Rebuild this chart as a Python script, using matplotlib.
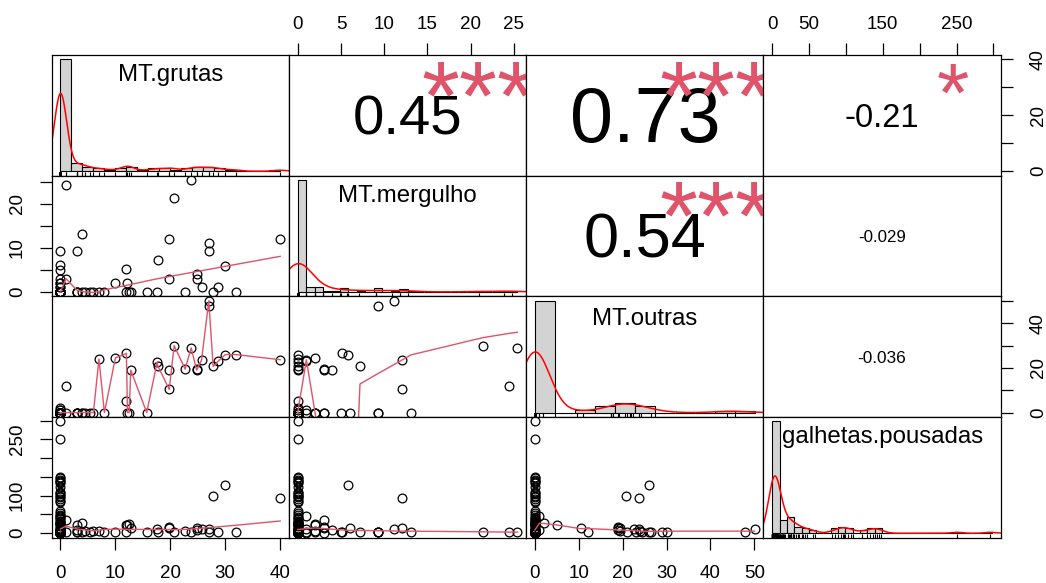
import numpy as np
import matplotlib
matplotlib.use("Agg")
import matplotlib.pyplot as plt
from matplotlib.font_manager import FontProperties
from matplotlib.textpath import TextPath
from matplotlib.transforms import offset_copy, blended_transform_factory

plt.rcParams['font.family'] = ['Liberation Sans', 'DejaVu Sans']
FONT = 'Liberation Sans'

var_names = ["MT.grutas", "MT.mergulho", "MT.outras", "galhetas.pousadas"]

# one value per site, same order in every list
mt_grutas = [
    1, 23.8, 20.7, 27, 27, 40, 19.8, 3.9, 3, 17.7,
    30, 12, 24.8, 24.8, 19.8, 10, 12, 25.7, 28.7, 7,
    8, 12.8, 12.5, 15.7, 17.6, 22.7, 27.8, 31.9, 12.2, 1,
    4, 4.5, 5.3, 6, 3, 3, 0,
    0, 0, 0, 0, 0, 0, 0, 0, 0, 0, 0, 0, 0, 0, 0, 0, 0, 0, 0, 0,
    0, 0, 0, 0, 0, 0, 0, 0, 0, 0,
    0, 0, 0, 0, 0, 0, 0, 0, 0, 0,
    0, 0, 0, 0, 0, 0, 0, 0, 0, 3,
    0, 0, 0, 0, 0, 0, 0, 0, 0, 0,
    0, 0, 0, 0, 0, 0, 0, 0, 0, 0,
    0, 0, 0, 0, 0, 0, 0,
]
mt_mergulho = [
    3, 25.4, 21.4, 11.1, 9.25, 12.1, 12.1, 13.1, 9.25, 7.2,
    5.8, 5.1, 4, 3, 3, 2, 0, 1, 1, 0,
    0, 0, 0, 0, 0, 0, 0, 0, 2, 24.4,
    0, 0, 0, 0, 0, 0, 0,
    0, 0, 0, 0, 0, 0, 0, 0, 0, 0, 0, 0, 0, 0, 0, 0, 0, 0, 0, 0,
    1, 0, 0, 0, 0, 0, 0, 0, 2, 0,
    6, 9.3, 5, 3, 1, 2, 0, 0, 0, 0,
    0, 0, 0, 0, 0, 0, 0, 0, 0, 0,
    0, 0, 0, 0, 0, 0, 0, 0, 0, 0,
    0, 0, 0, 0, 0, 0, 0, 0, 0, 0,
    0, 0, 0, 0, 0, 0, 0,
]
mt_outras = [
    0, 29, 30, 50.1, 48, 23.7, 10.4, 0, 0, 21,
    26, 26.5, 19, 19.5, 19, 24.5, 5, 23.7, 23, 24,
    0, 19, 0, 0, 22.6, 19.5, 20.7, 26, 0, 12,
    0, 0, 0, 0, 0, 0, 0,
    0, 0, 0, 0, 0, 0, 0, 0, 0, 0, 0, 0, 0, 0, 0, 0, 0, 0, 0, 0,
    1, 0, 0, 0, 0, 0, 0, 2, 0, 0,
    0, 0, 0, 0, 0, 0, 0, 0, 1, 0,
    0, 0, 0, 0, 0, 0, 0, 0, 0, 0,
    0, 0, 0, 0, 0, 0, 0, 0, 0, 0,
    0, 0, 0, 0, 0, 0, 0, 0, 0, 0,
    0, 0, 0, 0, 0, 0, 0,
]
galhetas_pousadas = [
    35, 4, 2, 12, 3, 94, 13, 3, 2, 4,
    129, 3, 8, 15, 16, 2, 22, 11, 2, 5,
    3, 14, 25, 3, 10, 5, 100, 2, 23, 3,
    28, 6, 4, 7, 21, 9, 18,
    298, 252, 149, 146, 143, 140, 137, 133, 122, 110,
    107, 104, 98, 96, 90, 86, 82, 58, 55, 48,
    45, 42, 40, 37, 32, 30, 28, 26, 25, 24,
    15, 2, 3, 1, 0, 5, 10, 9, 8, 8,
    7, 7, 6, 6, 6, 5, 5, 5, 4, 4,
    4, 3, 3, 3, 2, 2, 1, 1, 1, 1,
    1, 1, 1, 0, 0, 0, 0, 0, 0, 0,
    0, 0, 0, 0, 0, 0, 0,
]

# printed correlations (upper triangle) and their significance stars
cor_cells = [(0, 1), (0, 2), (0, 3), (1, 2), (1, 3), (2, 3)]
cor_values = [0.45, 0.73, -0.21, 0.54, -0.029, -0.036]
cor_labels = ["0.45", "0.73", "-0.21", "0.54", "-0.029", "-0.036"]
cor_stars = ["***", "***", "*", "***", "", ""]

# axis ticks per variable, and which labels are printed on each outer side
var_ticks = [
    [0, 10, 20, 30, 40],
    [0, 5, 10, 15, 20, 25],
    [0, 10, 20, 30, 40, 50],
    [0, 50, 100, 150, 200, 250, 300],
]
top_labels = {1: ["0", "5", "10", "15", "20", "25"],
              3: ["0", "50", "", "150", "", "250", ""]}
bottom_labels = {0: ["0", "10", "20", "30", "40"],
                 2: ["0", "10", "20", "30", "40", "50"]}
left_labels = {1: ["0", "", "10", "", "20", ""],
               3: ["0", "", "100", "", "", "250", ""]}
right_labels = {0: ["0", "", "20", "", "40"],
                2: ["0", "", "20", "", "40", ""]}

data = [np.array(v, dtype=float) for v in
        (mt_grutas, mt_mergulho, mt_outras, galhetas_pousadas)]


# ---- R's lowess (clowess) ----
def lowest(x, y, xs, nleft, nright, w, userw, rw):
    n = len(x)
    rng = x[-1] - x[0]
    h = max(xs - x[nleft], x[nright] - xs)
    h9, h1 = 0.999 * h, 0.001 * h
    a = 0.0
    j = nleft
    while j < n:
        w[j] = 0.0
        r = abs(x[j] - xs)
        if r <= h9:
            if r <= h1:
                w[j] = 1.0
            else:
                w[j] = (1 - (r / h) ** 3) ** 3
            if userw:
                w[j] *= rw[j]
            a += w[j]
        elif x[j] > xs:
            break
        j += 1
    nrt = j - 1
    if a <= 0:
        return None
    sl = slice(nleft, nrt + 1)
    w[sl] /= a
    if h > 0:
        a = np.sum(w[sl] * x[sl])
        b = xs - a
        c = np.sum(w[sl] * (x[sl] - a) ** 2)
        if np.sqrt(c) > 0.001 * rng:
            b /= c
            w[sl] *= (b * (x[sl] - a) + 1)
    return np.sum(w[sl] * y[sl])


def lowess(xv, yv, f=2 / 3, nsteps=3):
    order = np.argsort(xv, kind='stable')
    x = xv[order]
    y = yv[order]
    n = len(x)
    delta = 0.01 * (x[-1] - x[0])
    ns = max(2, min(n, int(f * n + 1e-7)))
    ys = np.zeros(n)
    rw = np.zeros(n)
    res = np.zeros(n)
    it = 1
    while it <= nsteps + 1:
        nleft, nright, last, i = 0, ns - 1, -1, 0
        while True:
            if nright < n - 1:
                d1 = x[i] - x[nleft]
                d2 = x[nright + 1] - x[i]
                if d1 > d2:
                    nleft += 1
                    nright += 1
                    continue
            val = lowest(x, y, x[i], nleft, nright, res, it > 1, rw)
            ys[i] = y[i] if val is None else val
            if last < i - 1:
                denom = x[i] - x[last]
                for j in range(last + 1, i):
                    alpha = (x[j] - x[last]) / denom
                    ys[j] = alpha * ys[i] + (1 - alpha) * ys[last]
            last = i
            cut = x[last] + delta
            i = last + 1
            while i < n:
                if x[i] > cut:
                    break
                if x[i] == x[last]:
                    ys[i] = ys[last]
                    last = i
                i += 1
            i = max(last + 1, i - 1)
            if last >= n - 1:
                break
        res = y - ys
        sc = np.mean(np.abs(res))
        if it > nsteps:
            break
        ar = np.sort(np.abs(res))
        m1 = n // 2
        if n % 2 == 0:
            cmad = 3 * (ar[m1] + ar[n - m1 - 1])
        else:
            cmad = 6 * ar[m1]
        if cmad < 1e-7 * sc:
            break
        r = np.abs(res)
        rw = np.where(r <= 0.001 * cmad, 1.0,
                      np.where(r <= 0.999 * cmad, (1 - (r / cmad) ** 2) ** 2, 0.0))
        it += 1
    return x, ys


# ---- hist helpers (R: breaks = "FD", density()) ----
def r_pretty(lo, up, ndiv):
    cell = (up - lo) / ndiv
    base = 10 ** np.floor(np.log10(cell))
    unit = base
    if 2 * base - cell < 1.5 * (cell - unit):
        unit = 2 * base
        if 5 * base - cell < 2.75 * (cell - unit):
            unit = 5 * base
            if 10 * base - cell < 1.5 * (cell - unit):
                unit = 10 * base
    ns = np.floor(lo / unit + 1e-7)
    nu = np.ceil(up / unit - 1e-7)
    return np.arange(ns, nu + 1) * unit


def fd_breaks(v):
    n = len(v)
    q25, q75 = np.percentile(v, [25, 75])
    h = 2 * (q75 - q25)
    al = 0.25
    while h == 0:
        al /= 2
        if al < 1 / 512:
            break
        lo, hi = np.percentile(v, [100 * al, 100 * (1 - al)])
        h = (hi - lo) / (1 - 2 * al)
    nclass = int(np.ceil((v.max() - v.min()) / (h * n ** (-1 / 3)))) if h > 0 else 1
    return r_pretty(v.min(), v.max(), max(1, nclass))


def bw_nrd0(v):
    hi = np.std(v, ddof=1)
    q25, q75 = np.percentile(v, [25, 75])
    lo = min(hi, (q75 - q25) / 1.34)
    if not lo:
        lo = hi or abs(v[0]) or 1.0
    return 0.9 * lo * len(v) ** (-0.2)


def ext_lim(v):
    lo, hi = v.min(), v.max()
    d = 0.04 * (hi - lo)
    return lo - d, hi + d


W_PX, H_PX = 1046, 583
fig = plt.figure(figsize=(W_PX / 100, H_PX / 100), dpi=100)
renderer = fig.canvas.get_renderer()

x0, x1, y0, y1 = 51.7, 1000.7, 55.0, 537.7
pw = (x1 - x0) / 4
ph = (y1 - y0) / 4


def text_w(s, size):
    fp = FontProperties(family=FONT, size=size)
    w, _, _ = renderer.get_text_width_height_descent(s, fp, ismath=False)
    return w


def ink_text(ax, x, y, s, size, color='black'):
    # centre the inked glyphs on (x, y), like R's text() with default adj
    fp = FontProperties(family=FONT, size=size)
    ext = TextPath((0, 0), s, prop=fp).get_extents()
    mid = (ext.y0 + ext.y1) / 2
    tr = offset_copy(ax.transAxes, fig=fig, x=0, y=-mid, units='points')
    ax.text(x, y, s, fontproperties=fp, color=color, ha='center',
            va='baseline', transform=tr, clip_on=True)


TICK_LEN, TICK_SIZE = 8.3, 13.5

axes = [[None] * 4 for _ in range(4)]
for i in range(4):
    for j in range(4):
        ax = fig.add_axes([(x0 + j * pw) / W_PX, 1 - (y0 + (i + 1) * ph) / H_PX,
                           pw / W_PX, ph / H_PX])
        axes[i][j] = ax
        for sp in ax.spines.values():
            sp.set_linewidth(0.9)
        ax.tick_params(bottom=False, top=False, left=False, right=False,
                       labelbottom=False, labeltop=False,
                       labelleft=False, labelright=False)

        if i == j:
            v = data[i]
            br = fd_breaks(v)
            idx = np.clip(np.searchsorted(br, v, side='left') - 1, 0, len(br) - 2)
            counts = np.bincount(idx, minlength=len(br) - 1)
            dens = counts / (len(v) * np.diff(br))
            ax.bar(br[:-1], dens, width=np.diff(br), align='edge',
                   color='#D3D3D3', edgecolor='black', linewidth=0.8)
            bw = bw_nrd0(v)
            gx = np.linspace(v.min() - 3 * bw, v.max() + 3 * bw, 512)
            gy = np.exp(-0.5 * ((gx[:, None] - v[None, :]) / bw) ** 2).sum(axis=1)
            gy /= len(v) * bw * np.sqrt(2 * np.pi)
            ax.plot(gx, gy, color='red', lw=1.1)
            trans = blended_transform_factory(ax.transData, ax.transAxes)
            ax.vlines(v, 0, 0.03, transform=trans, color='black', lw=0.8)
            span = br[-1] - br[0]
            ax.set_xlim(br[0] - 0.04 * span, br[-1] + 0.04 * span)
            ax.set_ylim(-0.04 * dens.max(), 1.04 * dens.max())
            lab_size = 10 * (0.85 * pw) / text_w(var_names[3], 10)
            ink_text(ax, 0.5, 0.833, var_names[i], lab_size)
            continue

        ax.set_xlim(*ext_lim(data[j]))
        ax.set_ylim(*ext_lim(data[i]))

        if i > j:
            ax.plot(data[j], data[i], 'o', mfc='none', mec='black', ms=6.3, mew=0.9)
            lx, ly = lowess(data[j], data[i])
            ax.plot(lx, ly, color='#DF536B', lw=1.0)

# correlation text in the upper panels
for (i, j), r, txt, stars in zip(cor_cells, cor_values, cor_labels, cor_stars):
    ax = axes[i][j]
    base = 10 * (0.8 * pw) / text_w(txt, 10)
    ink_text(ax, 0.5, 0.5, txt, base * (abs(r) + 0.3) / 1.3)
    if stars:
        ink_text(ax, 0.8, 0.8, stars, base, color='#DF536B')

# outer axes
for j, labs in top_labels.items():
    ax = axes[0][j]
    ax.set_xticks(var_ticks[j])
    ax.set_xticklabels(labs)
    ax.tick_params(axis='x', top=True, labeltop=True, length=TICK_LEN, width=0.9,
                   pad=7.2, labelsize=TICK_SIZE)
for j, labs in bottom_labels.items():
    ax = axes[3][j]
    ax.set_xticks(var_ticks[j])
    ax.set_xticklabels(labs)
    ax.tick_params(axis='x', bottom=True, labelbottom=True, length=TICK_LEN,
                   width=0.9, pad=11.5, labelsize=TICK_SIZE)


def side_labels(ax, ticks, labs, side):
    # R draws left/right labels parallel to the axis, centred 36 px off the box
    ax.set_yticks(ticks)
    ax.set_yticklabels([])
    if side == 'left':
        ax.tick_params(axis='y', left=True, length=TICK_LEN, width=0.9)
        xa, off = 0.0, -24.6
    else:
        ax.tick_params(axis='y', right=True, length=TICK_LEN, width=0.9)
        xa, off = 1.0, 27.3
    tr = offset_copy(blended_transform_factory(ax.transAxes, ax.transData),
                     fig=fig, x=off, y=0, units='points')
    for t, lab in zip(ticks, labs):
        if lab:
            ax.text(xa, t, lab, transform=tr, rotation=90, ha='center', va='center',
                    fontsize=TICK_SIZE, clip_on=False)


for i, labs in left_labels.items():
    side_labels(axes[i][0], var_ticks[i], labs, 'left')
for i, labs in right_labels.items():
    side_labels(axes[i][3], var_ticks[i], labs, 'right')

fig.savefig("out.png", dpi=100)
